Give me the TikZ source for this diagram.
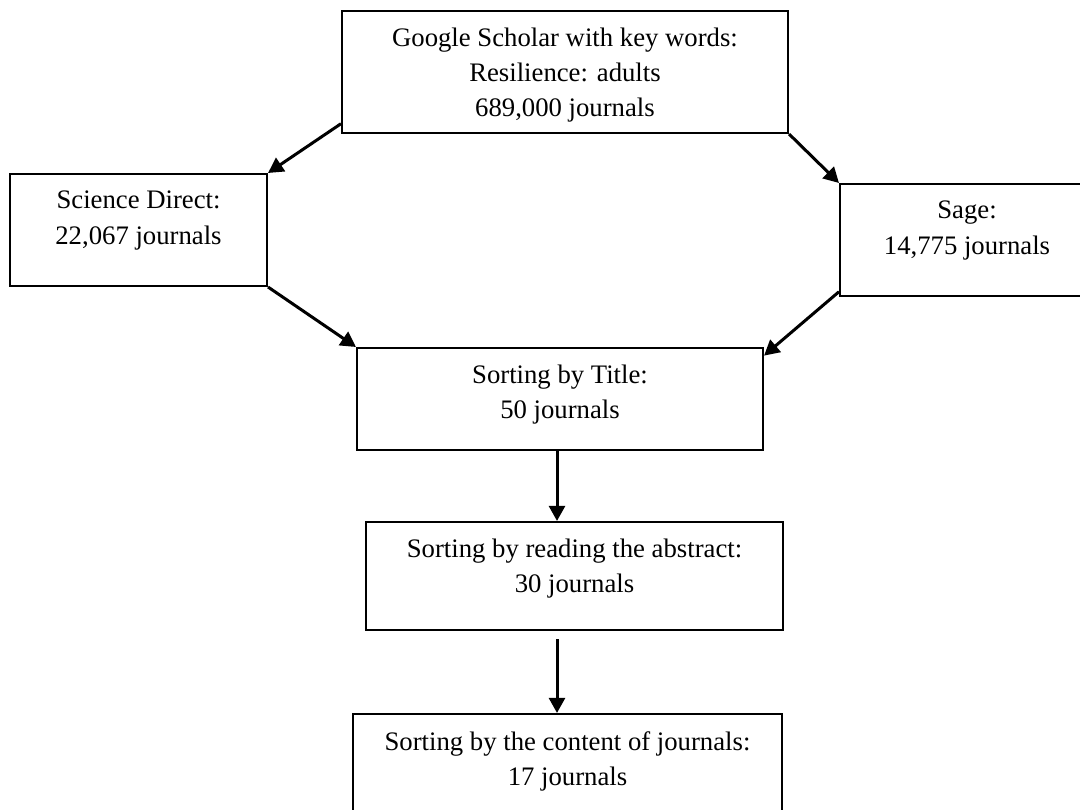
\documentclass[tikz,border=0pt]{standalone}
\usepackage{fontspec}
\setmainfont{Liberation Serif}
\usetikzlibrary{positioning,arrows.meta}

\tikzstyle{box} = [draw, line width=0.05cm, rectangle, inner sep=0pt]
\tikzstyle{txt} = [align=center, inner sep=0pt, font=\fontsize{19pt}{25pt}\selectfont]
\tikzstyle{line} = [draw, line width=0.075cm, -{Triangle[length=0.38cm,width=0.4cm]}]

\begin{document}
\begin{tikzpicture}[x=0.025cm,y=-0.025cm]
	\useasboundingbox (0,0) rectangle (1080,810);
	\clip (0,0) rectangle (1080,810);
	\node (scholar) at (565,72) [box, minimum width=11.15cm, minimum height=3.05cm] {};
	\node (science) at (138.5,230) [box, minimum width=6.425cm, minimum height=2.8cm] {};
	\node (sage) at (967,240) [box, minimum width=6.35cm, minimum height=2.8cm] {};
	\node (title) at (560,399) [box, minimum width=10.15cm, minimum height=2.55cm] {};
	\node (abstract) at (574.5,576) [box, minimum width=10.425cm, minimum height=2.7cm] {};
	\node (content) at (567.5,768) [box, minimum width=10.725cm, minimum height=2.7cm] {};
	\coordinate (axis) at (557,0);
	\node (scholartext) [txt, below=0.44cm of scholar.north] {Google Scholar with key words:\\Resilience: adults\\689,000 journals};
	\node (sciencetext) [txt, below=0.45cm of science.north] {Science Direct:\\22,067 journals};
	\node (sagetext) [txt, below=0.45cm of sage.north] {Sage:\\14,775 journals};
	\node (titletext) [txt, below=0.45cm of title.north] {Sorting by Title:\\50 journals};
	\node (abstracttext) [txt, below=0.45cm of abstract.north] {Sorting by reading the abstract:\\30 journals};
	\node (contenttext) [txt, below=0.45cm of content.north] {Sorting by the content of journals:\\17 journals};
	\path[line](scholar.193) -- (science.north east);
	\path[line](scholar.south east) -- (sage.north west);
	\path[line](science.south east) -- (title.north west);
	\path[line](sage.202) -- (title.12);
	\path[line](title.south -| axis) -- (abstract.north -| axis);
	\path[line]([yshift=-0.2cm]abstract.south -| axis) -- (content.north -| axis);
\end{tikzpicture}
\end{document}
